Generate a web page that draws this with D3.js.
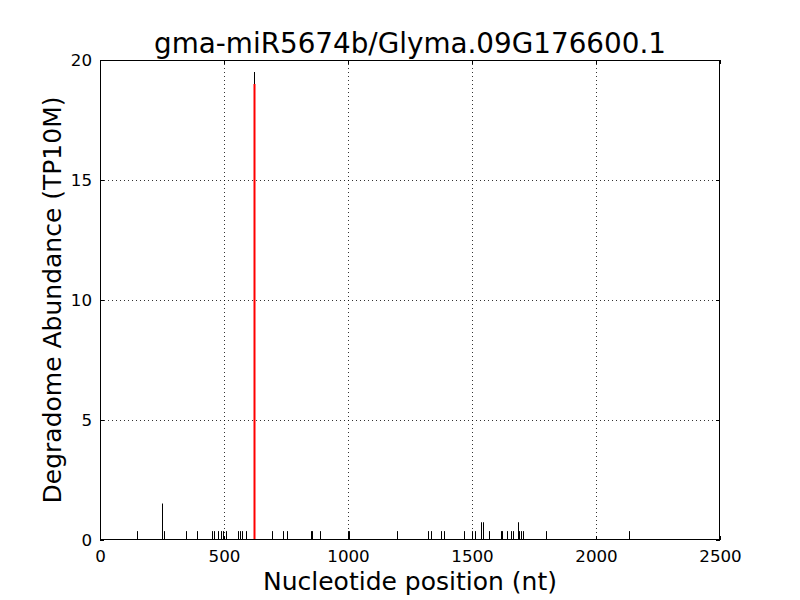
<!DOCTYPE html>
<html>
<head>
<meta charset="utf-8">
<script src="https://cdn.jsdelivr.net/npm/d3@7"></script>
<style>
  body { margin: 0; background: #fff; }
  text { font-family: "DejaVu Sans", sans-serif; }
</style>
</head>
<body>
<div id="place"></div>
<script>
// positions (nt) and abundances
let positions = [150, 251, 258, 347, 392, 453, 458, 477, 488, 497, 508, 555, 563, 574, 587, 620,
    695, 739, 755, 850, 854, 886, 1000, 1004, 1199, 1321, 1333, 1375, 1388, 1469, 1501, 1512,
    1536, 1544, 1568, 1617, 1622, 1642, 1658, 1665, 1685, 1691, 1699, 1706, 1800, 2134];
let abundances = [0.37, 1.52, 0.37, 0.37, 0.37, 0.37, 0.37, 0.37, 0.37, 0.37, 0.37, 0.37, 0.37, 0.37, 0.37, 19.5,
    0.37, 0.37, 0.37, 0.37, 0.37, 0.37, 0.37, 0.37, 0.37, 0.37, 0.37, 0.37, 0.37, 0.37, 0.37, 0.37,
    0.74, 0.74, 0.37, 0.37, 0.37, 0.37, 0.37, 0.37, 0.74, 0.37, 0.37, 0.37, 0.37, 0.37];
// cleavage site (red line)
let sitePos = [620];
let siteVal = [19.0];

let xTicks = [0, 500, 1000, 1500, 2000, 2500];
let yTicks = [0, 5, 10, 15, 20];

const W = 800, H = 600;
const margin = { top: 60, right: 80, bottom: 60, left: 100 },
    width = W - margin.left - margin.right,
    height = H - margin.top - margin.bottom;

let svg = d3.select("#place").append("svg")
    .attr("width", W)
    .attr("height", H);

let g = svg.append("g")
    .attr("transform", "translate(" + margin.left + "," + margin.top + ")");

let x = d3.scaleLinear().domain([0, 2500]).range([0, width]);
let y = d3.scaleLinear().domain([0, 20]).range([height, 0]);

// grid
g.append("g").selectAll("line")
    .data(xTicks.slice(1, -1))
    .join("line")
    .attr("x1", d => Math.round(x(d)) + 0.5).attr("x2", d => Math.round(x(d)) + 0.5)
    .attr("y1", 0).attr("y2", height)
    .attr("stroke", "#000").attr("stroke-width", 0.8).attr("stroke-dasharray", "1,3");
g.append("g").selectAll("line")
    .data(yTicks.slice(1, -1))
    .join("line")
    .attr("y1", d => Math.round(y(d)) + 0.5).attr("y2", d => Math.round(y(d)) + 0.5)
    .attr("x1", 0).attr("x2", width)
    .attr("stroke", "#000").attr("stroke-width", 0.8).attr("stroke-dasharray", "1,3");

// bars
g.append("g").selectAll("line")
    .data(positions.map((p, i) => [p, abundances[i]]))
    .join("line")
    .attr("x1", d => Math.round(x(d[0])) + 0.5).attr("x2", d => Math.round(x(d[0])) + 0.5)
    .attr("y1", y(0)).attr("y2", d => y(d[1]))
    .attr("stroke", "#000").attr("stroke-width", 1);

g.append("g").selectAll("line")
    .data(sitePos.map((p, i) => [p, siteVal[i]]))
    .join("line")
    .attr("x1", d => Math.round(x(d[0])) + 0.5).attr("x2", d => Math.round(x(d[0])) + 0.5)
    .attr("y1", y(0)).attr("y2", d => y(d[1]))
    .attr("stroke", "#ff0000").attr("stroke-width", 2);

// axes, ticks inward on all sides
let fmt = d3.format("d");
g.append("g").attr("transform", "translate(0," + height + ")")
    .call(d3.axisBottom(x).tickValues(xTicks).tickFormat(fmt).tickSizeInner(-4).tickSizeOuter(0).tickPadding(10));
g.append("g")
    .call(d3.axisTop(x).tickValues(xTicks).tickFormat("").tickSizeInner(-4).tickSizeOuter(0));
g.append("g")
    .call(d3.axisLeft(y).tickValues(yTicks).tickFormat(fmt).tickSizeInner(-4).tickSizeOuter(0).tickPadding(8));
g.append("g").attr("transform", "translate(" + width + ",0)")
    .call(d3.axisRight(y).tickValues(yTicks).tickFormat("").tickSizeInner(-4).tickSizeOuter(0));

g.selectAll(".domain").remove();
g.selectAll(".tick text").style("font-size", "16.7px").attr("fill", "#000");
g.selectAll(".tick line").attr("stroke", "#000");

g.append("rect")
    .attr("x", 0.5).attr("y", 0.5)
    .attr("width", width - 1).attr("height", height - 1)
    .attr("fill", "none").attr("stroke", "#000").attr("stroke-width", 1);

// labels
svg.append("text")
    .attr("x", margin.left + width / 2).attr("y", 53)
    .attr("text-anchor", "middle").style("font-size", "27.8px")
    .text("gma-miR5674b/Glyma.09G176600.1");
svg.append("text")
    .attr("x", margin.left + width / 2).attr("y", 590)
    .attr("text-anchor", "middle").style("font-size", "25px")
    .text("Nucleotide position (nt)");
svg.append("text")
    .attr("transform", "translate(61," + (margin.top + height / 2) + ") rotate(-90)")
    .attr("text-anchor", "middle").style("font-size", "25px")
    .text("Degradome Abundance (TP10M)");
</script>
</body>
</html>
